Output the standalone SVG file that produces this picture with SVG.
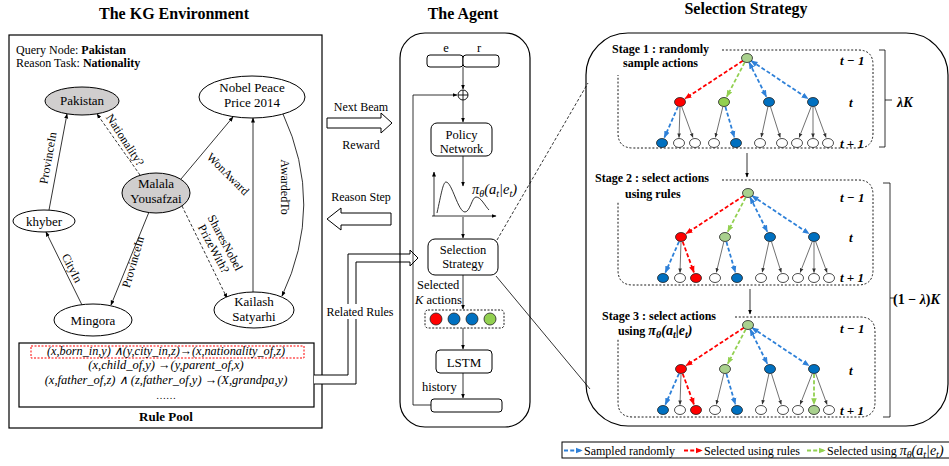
<svg xmlns="http://www.w3.org/2000/svg" width="949" height="466" viewBox="0 0 949 466">
<defs>
<style>
text{font-family:"Liberation Serif","Times New Roman",serif;fill:#000}
.ttl{font-size:16px;font-weight:bold;text-anchor:middle}
.n{font-size:13px;text-anchor:middle}
.lb{font-size:12px;text-anchor:middle}
.ru{font-size:12.5px;font-style:italic;text-anchor:middle}
.ag{font-size:12.5px;text-anchor:middle}
.st{font-size:12px;font-weight:bold}
.tl{font-size:13px;font-weight:bold;font-style:italic}
.lg{font-size:12px}
.ed{stroke:#000;stroke-width:0.8;fill:none;marker-end:url(#ak)}
.dsh{stroke-dasharray:3 2}
.box{fill:#fff;stroke:#000;stroke-width:1}
.gn{fill:#d0cece;stroke:#000;stroke-width:1}
.wn{fill:#fff;stroke:#000;stroke-width:1}
.bl{stroke:#2e80d8;stroke-width:1.8;stroke-dasharray:4 2.2;fill:none;marker-end:url(#mb)}
.rd{stroke:#ff0000;stroke-width:1.8;stroke-dasharray:4 2.2;fill:none;marker-end:url(#mr)}
.gr{stroke:#92d050;stroke-width:1.8;stroke-dasharray:4 2.2;fill:none;marker-end:url(#mg)}
.two{marker-start:url(#mb)}
.bk{stroke:#333;stroke-width:0.7;fill:none;marker-end:url(#mk)}
.nr{fill:#ff0000;stroke:#222;stroke-width:0.8}
.nb{fill:#0070c0;stroke:#222;stroke-width:0.8}
.ng{fill:#92d050;stroke:#222;stroke-width:0.8}
.nl{fill:#a9d18e;stroke:#222;stroke-width:0.8}
.nw{fill:#fff;stroke:#222;stroke-width:0.8}
.dot{fill:none;stroke:#000;stroke-width:0.9;stroke-dasharray:2 1.8}
.thin{stroke:#000;stroke-width:0.8;fill:none}
.sb{font-size:10px}
</style>
<marker id="ak" viewBox="0 0 10 10" refX="9" refY="5" markerWidth="5" markerHeight="5" markerUnits="userSpaceOnUse" orient="auto-start-reverse"><path d="M0,1 L10,5 L0,9 z" fill="#000"/></marker>
<marker id="mk" viewBox="0 0 10 10" refX="9" refY="5" markerWidth="4.5" markerHeight="4.5" markerUnits="userSpaceOnUse" orient="auto-start-reverse"><path d="M0,1 L10,5 L0,9 z" fill="#333"/></marker>
<marker id="mb" viewBox="0 0 10 10" refX="9" refY="5" markerWidth="7" markerHeight="7" markerUnits="userSpaceOnUse" orient="auto-start-reverse"><path d="M0,1 L10,5 L0,9 z" fill="#2e80d8"/></marker>
<marker id="mr" viewBox="0 0 10 10" refX="9" refY="5" markerWidth="7" markerHeight="7" markerUnits="userSpaceOnUse" orient="auto-start-reverse"><path d="M0,1 L10,5 L0,9 z" fill="#ff0000"/></marker>
<marker id="mg" viewBox="0 0 10 10" refX="9" refY="5" markerWidth="7" markerHeight="7" markerUnits="userSpaceOnUse" orient="auto-start-reverse"><path d="M0,1 L10,5 L0,9 z" fill="#92d050"/></marker>
</defs>
<rect width="949" height="466" fill="#fff"/>

<!-- Titles -->
<text class="ttl" x="174" y="19">The KG Environment</text>
<text class="ttl" x="463" y="19">The Agent</text>
<text class="ttl" x="746" y="14">Selection Strategy</text>

<!-- KG environment -->
<g id="kg-frame">
<rect x="9" y="35" width="313" height="393" fill="#fff" stroke="#000" stroke-width="1.2"/>
<text x="16" y="54" style="font-size:12px">Query Node: <tspan font-weight="bold">Pakistan</tspan></text>
<text x="16" y="67" style="font-size:12px">Reason Task: <tspan font-weight="bold">Nationality</tspan></text>
</g>

<g id="kg-edges">
<line class="ed" x1="49" y1="210" x2="67" y2="114"/>
<line class="ed dsh" x1="140" y1="175" x2="97" y2="114"/>
<line class="ed" x1="181" y1="179" x2="233" y2="117"/>
<line class="ed" x1="253" y1="292" x2="253" y2="118"/>
<path class="ed" d="M283,114 Q325,205 282,296"/>
<line class="ed dsh" x1="182" y1="206" x2="227" y2="298"/>
<line class="ed" x1="149" y1="212" x2="111" y2="305"/>
<line class="ed" x1="82" y1="305" x2="46" y2="232"/>
<text class="lb" transform="translate(48,158) rotate(-80)" y="4">ProvinceIn</text>
<text class="lb" transform="translate(125,140) rotate(57)" y="4">Nationality?</text>
<text class="lb" transform="translate(228,174) rotate(45)" y="4">WonAward</text>
<text class="lb" transform="translate(285,187) rotate(90)" y="4">AwardedTo</text>
<text class="lb" transform="translate(219,246) rotate(62)"><tspan x="0" y="-3">SharesNobel</tspan><tspan x="0" y="10">PrizeWith?</tspan></text>
<text class="lb" transform="translate(133,262) rotate(-74)" y="4">ProvinceIn</text>
<text class="lb" transform="translate(72,268) rotate(63)" y="4">CityIn</text>
</g>

<g id="node-pakistan"><ellipse class="gn" cx="82" cy="101" rx="37" ry="14"/><text class="n" x="82" y="105">Pakistan</text></g>
<g id="node-nobel"><ellipse class="wn" cx="252" cy="97" rx="53" ry="21"/><text class="n" x="252" y="92">Nobel Peace</text><text class="n" x="252" y="107">Price 2014</text></g>
<g id="node-malala"><ellipse class="gn" cx="156" cy="193" rx="34" ry="20"/><text class="n" x="156" y="188">Malala</text><text class="n" x="156" y="203">Yousafzai</text></g>
<g id="node-khyber"><ellipse class="wn" cx="44" cy="221" rx="31" ry="11"/><text class="n" x="44" y="226">khyber</text></g>
<g id="node-mingora"><ellipse class="wn" cx="93" cy="320" rx="39" ry="16"/><text class="n" x="93" y="325">Mingora</text></g>
<g id="node-kailash"><ellipse class="wn" cx="254" cy="310" rx="40" ry="18"/><text class="n" x="254" y="306">Kailash</text><text class="n" x="254" y="321">Satyarhi</text></g>

<g id="rule-pool">
<rect x="19" y="343" width="295" height="64" fill="#fff" stroke="#000" stroke-width="1.2"/>
<rect x="31" y="346" width="273" height="12" fill="none" stroke="#ff0000" stroke-width="1" stroke-dasharray="2 1.5"/>
<text class="ru" x="166" y="355" textLength="238" lengthAdjust="spacingAndGlyphs">(x,born_in,y) ∧(y,city_in,z)→(x,nationality_of,z)</text>
<text class="ru" x="166" y="369">(x,child_of,y) →(y,parent_of,x)</text>
<text class="ru" x="166" y="384">(x,father_of,z) ∧ (z,father_of,y) →(X,grandpa,y)</text>
<text class="ru" x="166" y="399" style="font-size:10px;font-style:normal">……</text>
<text x="166" y="421" style="font-size:13px;font-weight:bold;text-anchor:middle">Rule Pool</text>
</g>

<!-- Between panels -->
<g id="flow-arrows">
<text class="ag" x="361" y="111" style="font-size:12px">Next Beam</text>
<path class="box" d="M327,118 H381 V113 L392,123 L381,133 V128 H327 Z"/>
<text class="ag" x="361" y="149" style="font-size:12px">Reward</text>
<text class="ag" x="361" y="201" style="font-size:12px">Reason Step</text>
<path class="box" d="M391,213 H341 V208 L327,219 L341,230 V225 H391 Z"/>
<path class="box" d="M314,375 H348 V254 H410 V250 L418,258 L410,266 V262 H356 V384 H314"/>
<rect x="326" y="304" width="68" height="15" fill="#fff"/>
<text class="ag" x="360" y="316" style="font-size:12px">Related Rules</text>
<line class="thin" x1="497" y1="240" x2="588" y2="83" stroke-dasharray="3 2"/>
<line class="thin" x1="496" y1="276" x2="590" y2="389"/>
</g>

<!-- Agent -->
<g id="agent">
<rect x="400" y="33" width="130" height="394" rx="25" fill="none" stroke="#000" stroke-width="1.2"/>
<g id="node-er">
<rect x="427" y="55" width="36" height="12" rx="3" class="box"/>
<rect x="463" y="55" width="36" height="12" rx="3" class="box"/>
<text class="ag" x="446" y="52">e</text>
<text class="ag" x="479" y="52">r</text>
</g>
<g id="agent-connectors">
<line class="ed" x1="463" y1="67" x2="463" y2="89"/>
<line class="ed" x1="463" y1="100" x2="463" y2="122"/>
<line class="ed" x1="463" y1="156" x2="463" y2="186"/>
<line class="ed" x1="463" y1="217" x2="463" y2="238"/>
<line class="ed" x1="463" y1="275" x2="463" y2="309"/>
<line class="ed" x1="463" y1="328" x2="463" y2="349"/>
<line class="ed" x1="463" y1="373" x2="463" y2="398"/>
<path class="ed" d="M431,405 H413 V95 H457"/>
</g>
<g id="node-oplus"><circle cx="463" cy="95" r="5" fill="#fff" stroke="#000" stroke-width="0.9"/><path d="M458,95 H468 M463,90 V100" stroke="#000" stroke-width="0.9"/></g>
<g id="node-policy"><rect x="431" y="123" width="61" height="33" rx="6" class="box"/><text class="ag" x="461.5" y="139">Policy</text><text class="ag" x="461.5" y="153">Network</text></g>
<g id="node-plot">
<line class="ed" x1="434" y1="216" x2="434" y2="172"/>
<line class="ed" x1="432" y1="216" x2="496" y2="216"/>
<path class="thin" d="M437,213 C441,195 443,182 446,182 C452,182 458,212 465,212 C470,212 472,197 476,197 C481,197 485,206 489,210" stroke-width="1"/>
<text x="472" y="194" style="font-size:14.5px;font-style:italic">π<tspan class="sb" dy="3">θ</tspan><tspan dy="-3">(a</tspan><tspan class="sb" dy="3">t</tspan><tspan dy="-3">|e</tspan><tspan class="sb" dy="3">t</tspan><tspan dy="-3">)</tspan></text>
</g>
<g id="node-selection"><rect x="428" y="239" width="70" height="36" rx="7" class="box"/><text class="ag" x="463" y="254">Selection</text><text class="ag" x="463" y="268">Strategy</text></g>
<g id="node-actions">
<text x="417" y="289" style="font-size:12.5px">Selected</text>
<text x="415" y="304" style="font-size:12.5px"><tspan font-style="italic">K</tspan> actions</text>
<rect x="425" y="310" width="79" height="18" rx="3" fill="none" stroke="#000" stroke-width="0.9" stroke-dasharray="2 1.5"/>
<circle cx="436" cy="319" r="6" class="nr"/>
<circle cx="454" cy="319" r="6" class="nb"/>
<circle cx="472" cy="319" r="6" class="nb"/>
<circle cx="490" cy="319" r="6" class="ng"/>
</g>
<g id="node-lstm"><rect x="436" y="350" width="56" height="23" rx="4" class="box"/><text class="ag" x="464" y="367" style="font-size:13px">LSTM</text></g>
<text x="422" y="391" style="font-size:12.5px">history</text>
<g id="node-history"><rect x="431" y="399" width="71" height="13" rx="3" class="box"/></g>
</g>

<!-- Selection strategy panel -->
<g id="strategy-panel">
<rect x="586" y="33" width="362" height="393" rx="42" fill="none" stroke="#000" stroke-width="1.2"/>
<path class="dot" d="M722,50 H858 Q873,50 873,65 V133 Q873,148 858,148 H633 Q618,148 618,133 V75"/>
<path class="dot" d="M722,180 H858 Q873,180 873,195 V270 Q873,285 858,285 H633 Q618,285 618,270 V202"/>
<path class="dot" d="M735,317 H860 Q875,317 875,332 V402 Q875,417 860,417 H633 Q618,417 618,402 V338"/>
<text class="st" x="612" y="53">Stage 1 : randomly</text>
<text class="st" x="623" y="67">sample actions</text>
<text class="st" x="595" y="182">Stage 2 : select actions</text>
<text class="st" x="625" y="198">using rules</text>
<text class="st" x="602" y="320">Stage 3 : select actions</text>
<text class="st" x="618" y="335">using <tspan font-style="italic" font-size="14">π<tspan class="sb" dy="3">θ</tspan><tspan dy="-3">(a</tspan><tspan class="sb" dy="3">t</tspan><tspan dy="-3">|e</tspan><tspan class="sb" dy="3">t</tspan><tspan dy="-3">)</tspan></tspan></text>
<text class="tl" x="840" y="65">t − 1</text>
<text class="tl" x="849" y="107">t</text>
<text class="tl" x="840" y="148">t + 1</text>
<text class="tl" x="840" y="202">t − 1</text>
<text class="tl" x="849" y="242">t</text>
<text class="tl" x="840" y="282">t + 1</text>
<text class="tl" x="840" y="333">t − 1</text>
<text class="tl" x="849" y="375">t</text>
<text class="tl" x="840" y="415">t + 1</text>
<path class="thin" d="M879,50 H885 V147 H879 M885,100 H892"/>
<text x="897" y="107" style="font-size:14px;font-weight:bold;font-style:italic">λK</text>
<path class="thin" d="M883,183 H890 V417 H883 M890,298 H895"/>
<text x="893" y="304" style="font-size:14px;font-weight:bold">(1 − <tspan font-style="italic">λ</tspan>)<tspan font-style="italic">K</tspan></text>
<line class="ed" x1="747" y1="153" x2="747" y2="177"/>
<line class="ed" x1="750" y1="289" x2="750" y2="314"/>
</g>

<g id="stage1">
<g id="stage1-edges">
<line class="rd" x1="742.8" y1="60.8" x2="685" y2="98.7"/>
<line class="gr" x1="744.7" y1="62.4" x2="726.8" y2="96.7"/>
<line class="bl two" x1="749.2" y1="62.5" x2="766.3" y2="96.6"/>
<line class="bl two" x1="751.2" y1="60.8" x2="808" y2="98.7"/>
<line class="bl" x1="678" y1="106.6" x2="664.4" y2="137.5"/>
<line class="bk" x1="680" y1="107" x2="679" y2="137.5"/>
<line class="bk" x1="681.7" y1="106.7" x2="692.9" y2="137.4"/>
<line class="bk" x1="722.8" y1="106.9" x2="715.4" y2="137.2"/>
<line class="bl" x1="725.4" y1="106.8" x2="734.3" y2="137.2"/>
<line class="bk" x1="767.9" y1="106.9" x2="761.3" y2="137.1"/>
<line class="bk" x1="770.5" y1="106.8" x2="780.2" y2="137.3"/>
<line class="bk" x1="811.2" y1="106.7" x2="799.2" y2="137.4"/>
<line class="bk" x1="813" y1="107" x2="813" y2="137.5"/>
<line class="bk" x1="814.7" y1="106.7" x2="826" y2="137.4"/>
</g>
<ellipse class="nl" cx="747" cy="58" rx="5.5" ry="4.5"/>
<ellipse class="nr" cx="680" cy="102" rx="5.5" ry="4.5"/>
<ellipse class="ng" cx="724" cy="102" rx="5.5" ry="4.5"/>
<ellipse class="nb" cx="769" cy="102" rx="5.5" ry="4.5"/>
<ellipse class="nb" cx="813" cy="102" rx="5.5" ry="4.5"/>
<ellipse class="nb" cx="662" cy="143" rx="5.5" ry="4.5"/>
<ellipse class="nw" cx="679" cy="143" rx="5.5" ry="4.5"/>
<ellipse class="nw" cx="695" cy="143" rx="5.5" ry="4.5"/>
<ellipse class="nw" cx="714" cy="143" rx="5.5" ry="4.5"/>
<ellipse class="nb" cx="736" cy="143" rx="5.5" ry="4.5"/>
<ellipse class="nw" cx="760" cy="143" rx="5.5" ry="4.5"/>
<ellipse class="nw" cx="782" cy="143" rx="5.5" ry="4.5"/>
<ellipse class="nw" cx="797" cy="143" rx="5.5" ry="4.5"/>
<ellipse class="nw" cx="813" cy="143" rx="5.5" ry="4.5"/>
<ellipse class="nw" cx="828" cy="143" rx="5.5" ry="4.5"/>
</g>

<g id="stage2" transform="translate(1,135)">
<g id="stage2-edges">
<line class="rd" x1="742.8" y1="60.8" x2="685" y2="98.7"/>
<line class="gr" x1="744.7" y1="62.4" x2="726.8" y2="96.7"/>
<line class="bl two" x1="749.2" y1="62.5" x2="766.3" y2="96.6"/>
<line class="bl two" x1="751.2" y1="60.8" x2="808" y2="98.7"/>
<line class="bl" x1="678" y1="106.6" x2="664.4" y2="137.5"/>
<line class="bk" x1="680" y1="107" x2="679" y2="137.5"/>
<line class="rd" x1="681.7" y1="106.7" x2="692.9" y2="137.4"/>
<line class="bk" x1="722.8" y1="106.9" x2="715.4" y2="137.2"/>
<line class="bl" x1="725.4" y1="106.8" x2="734.3" y2="137.2"/>
<line class="bk" x1="767.9" y1="106.9" x2="761.3" y2="137.1"/>
<line class="bk" x1="770.5" y1="106.8" x2="780.2" y2="137.3"/>
<line class="bk" x1="811.2" y1="106.7" x2="799.2" y2="137.4"/>
<line class="bk" x1="813" y1="107" x2="813" y2="137.5"/>
<line class="bk" x1="814.7" y1="106.7" x2="826" y2="137.4"/>
</g>
<ellipse class="nl" cx="747" cy="58" rx="5.5" ry="4.5"/>
<ellipse class="nr" cx="680" cy="102" rx="5.5" ry="4.5"/>
<ellipse class="nl" cx="724" cy="102" rx="5.5" ry="4.5"/>
<ellipse class="nb" cx="769" cy="102" rx="5.5" ry="4.5"/>
<ellipse class="nb" cx="813" cy="102" rx="5.5" ry="4.5"/>
<ellipse class="nb" cx="662" cy="143" rx="5.5" ry="4.5"/>
<ellipse class="nw" cx="679" cy="143" rx="5.5" ry="4.5"/>
<ellipse class="nr" cx="695" cy="143" rx="5.5" ry="4.5"/>
<ellipse class="nw" cx="714" cy="143" rx="5.5" ry="4.5"/>
<ellipse class="nb" cx="736" cy="143" rx="5.5" ry="4.5"/>
<ellipse class="nw" cx="760" cy="143" rx="5.5" ry="4.5"/>
<ellipse class="nw" cx="782" cy="143" rx="5.5" ry="4.5"/>
<ellipse class="nw" cx="797" cy="143" rx="5.5" ry="4.5"/>
<ellipse class="nw" cx="813" cy="143" rx="5.5" ry="4.5"/>
<ellipse class="nw" cx="828" cy="143" rx="5.5" ry="4.5"/>
</g>

<g id="stage3" transform="translate(1,267)">
<g id="stage3-edges">
<line class="rd" x1="742.8" y1="60.8" x2="685" y2="98.7"/>
<line class="gr" x1="744.7" y1="62.4" x2="726.8" y2="96.7"/>
<line class="bl two" x1="749.2" y1="62.5" x2="766.3" y2="96.6"/>
<line class="bl two" x1="751.2" y1="60.8" x2="808" y2="98.7"/>
<line class="bl" x1="678" y1="106.6" x2="664.4" y2="137.5"/>
<line class="bk" x1="680" y1="107" x2="679" y2="137.5"/>
<line class="rd" x1="681.7" y1="106.7" x2="692.9" y2="137.4"/>
<line class="bk" x1="722.8" y1="106.9" x2="715.4" y2="137.2"/>
<line class="bl" x1="725.4" y1="106.8" x2="734.3" y2="137.2"/>
<line class="bk" x1="767.9" y1="106.9" x2="761.3" y2="137.1"/>
<line class="bk" x1="770.5" y1="106.8" x2="780.2" y2="137.3"/>
<line class="bk" x1="811.2" y1="106.7" x2="799.2" y2="137.4"/>
<line class="gr" x1="813" y1="107" x2="813" y2="137.5"/>
<line class="bk" x1="814.7" y1="106.7" x2="826" y2="137.4"/>
</g>
<ellipse class="nl" cx="747" cy="58" rx="5.5" ry="4.5"/>
<ellipse class="nr" cx="680" cy="102" rx="5.5" ry="4.5"/>
<ellipse class="nl" cx="724" cy="102" rx="5.5" ry="4.5"/>
<ellipse class="nb" cx="769" cy="102" rx="5.5" ry="4.5"/>
<ellipse class="nb" cx="813" cy="102" rx="5.5" ry="4.5"/>
<ellipse class="nb" cx="662" cy="143" rx="5.5" ry="4.5"/>
<ellipse class="nw" cx="679" cy="143" rx="5.5" ry="4.5"/>
<ellipse class="nr" cx="695" cy="143" rx="5.5" ry="4.5"/>
<ellipse class="nw" cx="714" cy="143" rx="5.5" ry="4.5"/>
<ellipse class="nb" cx="736" cy="143" rx="5.5" ry="4.5"/>
<ellipse class="nw" cx="760" cy="143" rx="5.5" ry="4.5"/>
<ellipse class="nw" cx="782" cy="143" rx="5.5" ry="4.5"/>
<ellipse class="nw" cx="797" cy="143" rx="5.5" ry="4.5"/>
<ellipse class="nl" cx="813" cy="143" rx="5.5" ry="4.5"/>
<ellipse class="nw" cx="828" cy="143" rx="5.5" ry="4.5"/>
</g>

<g id="legend">
<rect x="562" y="442" width="400" height="16" fill="#fff" stroke="#000" stroke-width="1"/>
<line class="bl" x1="564" y1="450.5" x2="582" y2="450.5"/>
<text class="lg" x="584" y="455">Sampled randomly</text>
<line class="rd" x1="684" y1="450.5" x2="702" y2="450.5"/>
<text class="lg" x="704" y="455">Selected using rules</text>
<line class="gr" x1="807" y1="450.5" x2="825" y2="450.5"/>
<text class="lg" x="827" y="455">Selected using <tspan font-style="italic" font-size="14">π<tspan class="sb" dy="3">θ</tspan><tspan dy="-3">(a</tspan><tspan class="sb" dy="3">t</tspan><tspan dy="-3">|e</tspan><tspan class="sb" dy="3">t</tspan><tspan dy="-3">)</tspan></tspan></text>
</g>
</svg>
